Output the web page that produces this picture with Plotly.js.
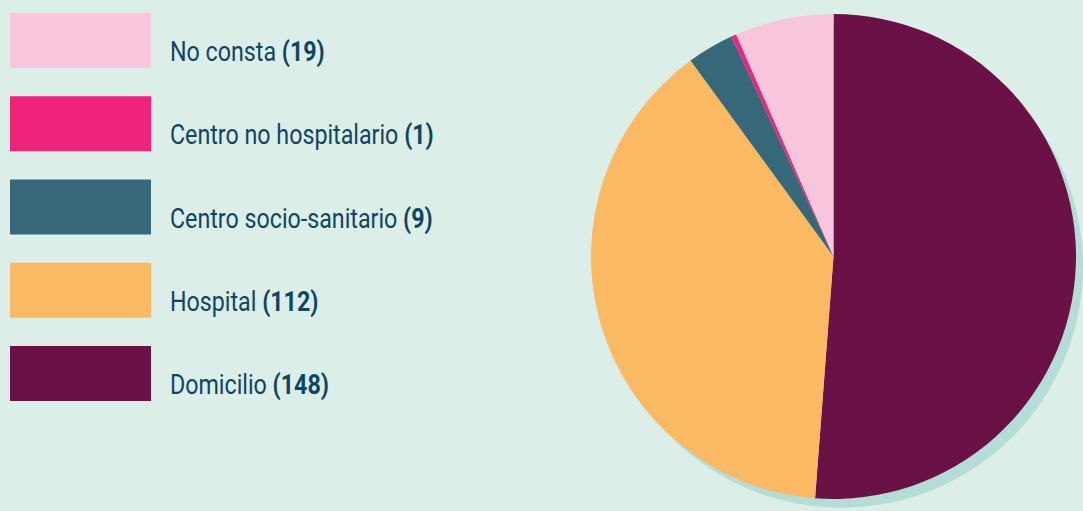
<!DOCTYPE html>
<html>
<head>
<meta charset="utf-8">
<script src="https://cdn.plot.ly/plotly-3.0.1.min.js"></script>
<style>
html,body{margin:0;padding:0;background:#dceee8;}
.annotation-text{transform:scaleX(0.83);transform-box:fill-box;transform-origin:0 50%;}
</style>
</head>
<body>
<div id="chart" style="width:1083px;height:511px;"></div>
<script>
// Data (pie order, clockwise from 12 o'clock)
const categories = ["Domicilio", "Hospital", "Centro socio-sanitario", "Centro no hospitalario", "No consta"];
const values = [148, 112, 9, 1, 19];
const colors = ["#6a1246", "#fcb964", "#37687a", "#ef237a", "#f8c6dc"];
// Legend order (top to bottom)
const legendOrder = ["No consta", "Centro no hospitalario", "Centro socio-sanitario", "Hospital", "Domicilio"];

const W = 1083, H = 511;
const px = v => v / W;
const py = v => 1 - v / H;

const shapes = [];
const annotations = [];
legendOrder.forEach((name, i) => {
  const k = categories.indexOf(name);
  const top = 13 + i * 83.25;
  shapes.push({type: "rect", xref: "paper", yref: "paper",
    x0: px(10), x1: px(151), y0: py(top + 55), y1: py(top),
    fillcolor: colors[k], line: {width: 0}});
  annotations.push({xref: "paper", yref: "paper", x: px(168), y: py(top + 38.5),
    xanchor: "left", yanchor: "middle", showarrow: false,
    text: name + " <b>(" + values[k] + ")</b>",
    font: {family: "Roboto, sans-serif", size: 28, color: "#0f4561"}});
});

const pieL = 590.5, pieR = 1076.5, pieT = 14, pieB = 499;
const sh = 10;
const traces = [
  {type: "pie", values: [1], labels: ["shadow"], sort: false,
   marker: {colors: ["#b4ddd5"], line: {width: 0}},
   textinfo: "none", hoverinfo: "skip", showlegend: false,
   domain: {x: [px(pieL + sh), px(pieR + sh)], y: [py(pieB + sh), py(pieT + sh)]}},
  {type: "pie", values: values, labels: categories, sort: false,
   direction: "clockwise", rotation: 0,
   marker: {colors: colors, line: {width: 0}},
   textinfo: "none", showlegend: false,
   domain: {x: [px(pieL), px(pieR)], y: [py(pieB), py(pieT)]}}
];

Plotly.newPlot("chart", traces, {
  width: W, height: H,
  margin: {l: 0, r: 0, t: 0, b: 0},
  paper_bgcolor: "#dceee8", plot_bgcolor: "#dceee8",
  showlegend: false,
  shapes: shapes, annotations: annotations
}, {displayModeBar: false, staticPlot: true});
</script>
</body>
</html>
